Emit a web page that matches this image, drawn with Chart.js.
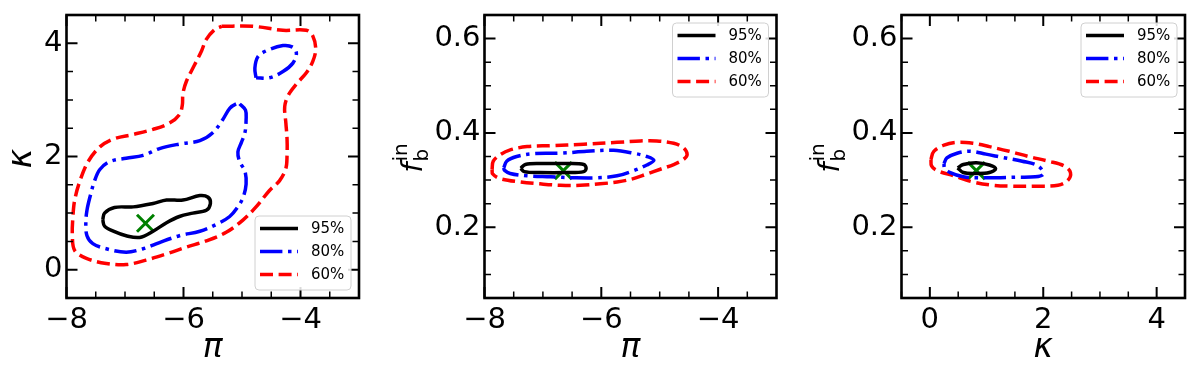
<!DOCTYPE html>
<html>
<head>
<meta charset="utf-8">
<title>Contours</title>
<script src="https://cdn.jsdelivr.net/npm/chart.js@4.4.1/dist/chart.umd.min.js"></script>
<style>
  html, body { margin: 0; padding: 0; background: #fff; }
  #wrap { position: relative; width: 1200px; height: 375px; overflow: hidden; }
  .panel { position: absolute; top: 0; height: 375px; }
</style>
</head>
<body>
<div id="wrap">
  <div class="panel" style="left:0; width:400px"><canvas id="c1" width="400" height="375"></canvas></div>
  <div class="panel" style="left:380px; width:420px"><canvas id="c2" width="420" height="375"></canvas></div>
  <div class="panel" style="left:780px; width:420px"><canvas id="c3" width="420" height="375"></canvas></div>
</div>
<script>
// contour levels (legend labels)
const levels = ['95%', '80%', '60%'];

// panel 1: pi (x) vs kappa (y)
const piKappa95 = [[-7.38,0.88],[-7.35,1.00],[-7.18,1.10],[-6.86,1.11],[-6.52,1.17],[-6.29,1.23],[-6.01,1.23],
  [-5.72,1.31],[-5.58,1.28],[-5.54,1.17],[-5.61,1.05],[-5.84,1.00],[-6.07,0.94],[-6.29,0.83],[-6.52,0.68],
  [-6.75,0.57],[-6.98,0.60],[-7.20,0.68],[-7.35,0.77]];
const piKappa80 = [[-5.04,2.93],[-4.94,2.82],[-4.93,2.65],[-4.95,2.42],[-5.01,2.25],[-5.07,2.08],[-5.04,1.91],
  [-4.95,1.74],[-4.93,1.51],[-4.98,1.28],[-5.07,1.11],[-5.21,0.94],[-5.44,0.80],[-5.72,0.68],[-6.07,0.60],
  [-6.41,0.48],[-6.69,0.37],[-6.98,0.31],[-7.32,0.37],[-7.55,0.46],[-7.65,0.60],[-7.67,0.83],[-7.65,1.05],
  [-7.60,1.28],[-7.52,1.57],[-7.43,1.77],[-7.26,1.91],[-6.98,1.97],[-6.69,2.02],[-6.41,2.14],[-6.07,2.22],
  [-5.72,2.28],[-5.50,2.42],[-5.33,2.65],[-5.21,2.85],[-5.10,2.93]];
const piKappa80b = [[-4.76,3.39],[-4.78,3.56],[-4.73,3.76],[-4.58,3.87],[-4.30,3.96],[-4.13,3.93],[-4.07,3.82],
  [-4.13,3.65],[-4.30,3.50],[-4.53,3.39]];
const piKappa60 = [[-5.35,4.30],[-4.81,4.30],[-4.30,4.23],[-3.90,4.23],[-3.79,4.13],[-3.74,3.90],[-3.79,3.68],
  [-3.90,3.48],[-4.07,3.28],[-4.21,3.08],[-4.27,2.88],[-4.25,2.59],[-4.23,2.31],[-4.23,2.02],[-4.25,1.79],
  [-4.36,1.57],[-4.53,1.40],[-4.76,1.11],[-4.98,0.88],[-5.27,0.66],[-5.61,0.51],[-5.95,0.40],[-6.29,0.28],
  [-6.64,0.17],[-6.98,0.09],[-7.32,0.11],[-7.66,0.20],[-7.86,0.34],[-7.90,0.60],[-7.89,0.94],[-7.86,1.23],
  [-7.77,1.57],[-7.63,1.91],[-7.43,2.17],[-7.20,2.31],[-6.86,2.39],[-6.52,2.48],[-6.24,2.59],[-6.07,2.74],
  [-6.02,2.91],[-6.01,3.11],[-5.95,3.33],[-5.81,3.62],[-5.69,3.87],[-5.61,4.07],[-5.47,4.24]];

// panel 2: pi (x) vs f_b^in (y)
const piFb95 = [[-7.38,0.325],[-7.30,0.333],[-7.05,0.335],[-6.59,0.335],[-6.30,0.333],[-6.26,0.325],
  [-6.30,0.318],[-6.59,0.316],[-7.05,0.316],[-7.32,0.318]];
const piFb80 = [[-7.67,0.326],[-7.62,0.340],[-7.45,0.350],[-7.16,0.356],[-6.70,0.357],[-6.25,0.361],
  [-5.79,0.363],[-5.45,0.357],[-5.22,0.350],[-5.10,0.342],[-5.22,0.332],[-5.45,0.320],[-5.73,0.309],
  [-6.07,0.305],[-6.47,0.305],[-6.87,0.307],[-7.27,0.309],[-7.56,0.314],[-7.66,0.321]];
const piFb60 = [[-7.87,0.323],[-7.85,0.340],[-7.73,0.354],[-7.56,0.364],[-7.27,0.371],[-6.87,0.373],
  [-6.30,0.376],[-5.73,0.380],[-5.33,0.383],[-5.05,0.383],[-4.76,0.378],[-4.59,0.368],[-4.53,0.354],
  [-4.59,0.344],[-4.76,0.333],[-4.99,0.323],[-5.22,0.313],[-5.45,0.303],[-5.73,0.296],[-6.02,0.292],
  [-6.36,0.289],[-6.70,0.289],[-7.05,0.292],[-7.39,0.296],[-7.73,0.303],[-7.86,0.313]];

// panel 3: kappa (x) vs f_b^in (y)
const kappaFb95 = [[0.49,0.326],[0.59,0.333],[0.82,0.337],[1.05,0.332],[1.16,0.324],[1.05,0.316],
  [0.82,0.314],[0.59,0.316]];
const kappaFb80 = [[0.25,0.335],[0.30,0.347],[0.48,0.357],[0.71,0.361],[0.99,0.355],[1.28,0.348],
  [1.63,0.340],[1.91,0.330],[2.00,0.313],[1.86,0.307],[1.51,0.306],[1.17,0.305],[0.82,0.305],
  [0.59,0.307],[0.36,0.316],[0.26,0.325]];
const kappaFb60 = [[0.02,0.344],[0.07,0.361],[0.25,0.374],[0.48,0.380],[0.76,0.378],[1.05,0.371],
  [1.40,0.361],[1.74,0.350],[2.09,0.340],[2.37,0.330],[2.48,0.316],[2.43,0.299],[2.26,0.289],
  [1.86,0.287],[1.45,0.287],[1.11,0.289],[0.76,0.296],[0.42,0.309],[0.13,0.320],[0.03,0.330]];

// best-fit point (green cross)
const bestPi = -6.65;
const bestKappa = 0.82;
const bestFb = 0.320;

// axis ticks
const piTicks = [-8, -6, -4];
const piMinor = [-7.5, -7, -6.5, -5.5, -5, -4.5, -3.5];
const kappaTicks = [0, 2, 4];
const kappaMinor = [-0.5, 0.5, 1, 1.5, 2.5, 3, 3.5, 4.5];
const fbTicks = [0.2, 0.4, 0.6];
const fbMinor = [0.1, 0.15, 0.25, 0.3, 0.35, 0.45, 0.5, 0.55];

const styles = {
  '95%': { color: '#000000', dash: [] },
  '80%': { color: '#0000ff', dash: [22.4, 5.6, 3.5, 5.6] },
  '60%': { color: '#ff0000', dash: [13, 5.6] }
};
const tickFont = { family: "'DejaVu Sans', sans-serif", size: 29 };

function closed(pts) {
  return pts.concat([pts[0]]).map(([x, y]) => ({ x, y }));
}

function contour(label, pts) {
  const s = styles[label];
  return {
    label: label,
    data: closed(pts),
    showLine: true,
    borderColor: s.color,
    borderDash: s.dash,
    borderWidth: 3.5,
    pointRadius: 0,
    tension: 0.35,
    fill: false
  };
}

function marker(x, y) {
  return {
    label: 'best',
    data: [{ x, y }],
    pointStyle: 'crossRot',
    pointRadius: 12,
    borderColor: '#008000',
    borderWidth: 3
  };
}

function fmt(v, dec) {
  return (dec ? v.toFixed(dec) : String(v)).replace('-', '\u2212');
}

// frame, inward ticks, axis titles and legend
const decorPlugin = {
  id: 'decor',
  afterDatasetsDraw(chart) {
    const o = chart.options.plugins.decor;
    const { ctx, chartArea: a } = chart;
    const xs = chart.scales.x, ys = chart.scales.y;
    ctx.save();
    ctx.strokeStyle = '#000';
    ctx.lineCap = 'butt';
    const tick = (vals, scale, len, w) => {
      ctx.lineWidth = w;
      ctx.beginPath();
      vals.forEach(v => {
        const p = scale.getPixelForValue(v);
        if (scale === xs) {
          ctx.moveTo(p, a.bottom); ctx.lineTo(p, a.bottom - len);
          ctx.moveTo(p, a.top); ctx.lineTo(p, a.top + len);
        } else {
          ctx.moveTo(a.left, p); ctx.lineTo(a.left + len, p);
          ctx.moveTo(a.right, p); ctx.lineTo(a.right - len, p);
        }
      });
      ctx.stroke();
    };
    tick(o.xMajor, xs, 11, 2);
    tick(o.xMinor, xs, 6.5, 1.5);
    tick(o.yMajor, ys, 11, 2);
    tick(o.yMinor, ys, 6.5, 1.5);

    // legend
    const lw = 96, lh = 74;
    const bx = a.right - 8 - lw;
    const by = o.legendPos === 'top' ? a.top + 8 : a.bottom - 8 - lh;
    ctx.beginPath();
    ctx.roundRect(bx, by, lw, lh, 4);
    ctx.fillStyle = 'rgba(255,255,255,0.85)';
    ctx.fill();
    ctx.lineWidth = 1;
    ctx.strokeStyle = '#d0d0d0';
    ctx.stroke();
    ctx.font = "15px 'DejaVu Sans', sans-serif";
    ctx.textBaseline = 'middle';
    ctx.textAlign = 'left';
    levels.forEach((lab, i) => {
      const ly = by + 12.5 + i * 23;
      ctx.beginPath();
      ctx.setLineDash(styles[lab].dash);
      ctx.strokeStyle = styles[lab].color;
      ctx.lineWidth = 3.5;
      ctx.moveTo(bx + 5, ly);
      ctx.lineTo(bx + 43, ly);
      ctx.stroke();
      ctx.setLineDash([]);
      ctx.fillStyle = '#000';
      ctx.fillText(lab, bx + 56, ly + 1);
    });

    // frame
    ctx.lineWidth = 2.6;
    ctx.strokeStyle = '#000';
    ctx.strokeRect(a.left, a.top, a.right - a.left, a.bottom - a.top);

    // axis titles
    ctx.fillStyle = '#000';
    ctx.textAlign = 'center';
    ctx.textBaseline = 'middle';
    ctx.font = "italic 33px 'DejaVu Sans', sans-serif";
    ctx.fillText(o.xTitle, (a.left + a.right) / 2, 348);
    ctx.translate(a.left - o.yTitleGap, (a.top + a.bottom) / 2 + 2);
    ctx.rotate(-Math.PI / 2);
    if (o.yTitle === 'fb') {
      ctx.textAlign = 'left';
      ctx.textBaseline = 'alphabetic';
      ctx.font = "italic 29px 'DejaVu Sans', sans-serif";
      const fw = ctx.measureText('f').width;
      ctx.font = "20px 'DejaVu Sans', sans-serif";
      const sw = Math.max(ctx.measureText('in').width, ctx.measureText('b').width);
      const x0 = -(fw + sw) / 2;
      ctx.font = "italic 29px 'DejaVu Sans', sans-serif";
      ctx.fillText('f', x0, 8);
      ctx.font = "20px 'DejaVu Sans', sans-serif";
      ctx.fillText('b', x0 + fw + 1, 14);
      ctx.fillText('in', x0 + fw + 1, -7);
    } else {
      ctx.fillText(o.yTitle, 0, 0);
    }
    ctx.restore();
  }
};

function makeChart(id, cfg) {
  const W = cfg.width;
  const left = cfg.area.left - cfg.offset;
  const right = cfg.area.right - cfg.offset;
  const scaleX = {
    type: 'linear',
    min: cfg.xRange[0], max: cfg.xRange[1],
    grid: { display: false, drawTicks: false },
    border: { display: false },
    afterBuildTicks: s => { s.ticks = cfg.xMajor.map(v => ({ value: v })); },
    afterFit: s => { s.height = 375 - cfg.area.bottom; s.paddingLeft = 0; s.paddingRight = 0; },
    ticks: { font: tickFont, color: '#000', padding: 5, maxRotation: 0,
      callback: v => fmt(v, cfg.xDec) }
  };
  const scaleY = {
    type: 'linear',
    min: cfg.yRange[0], max: cfg.yRange[1],
    grid: { display: false, drawTicks: false },
    border: { display: false },
    afterBuildTicks: s => { s.ticks = cfg.yMajor.map(v => ({ value: v })); },
    afterFit: s => { s.width = left; s.paddingTop = 0; s.paddingBottom = 0; },
    ticks: { font: tickFont, color: '#000', padding: 4,
      callback: v => fmt(v, cfg.yDec) }
  };
  return new Chart(document.getElementById(id), {
    type: 'scatter',
    data: { datasets: cfg.datasets },
    options: {
      responsive: false,
      animation: false,
      layout: { padding: { left: 0, top: cfg.area.top, right: W - right, bottom: 0 } },
      scales: { x: scaleX, y: scaleY },
      plugins: {
        legend: { display: false },
        tooltip: { enabled: false },
        decor: {
          xMajor: cfg.xMajor, xMinor: cfg.xMinor, yMajor: cfg.yMajor, yMinor: cfg.yMinor,
          legendPos: cfg.legendPos, xTitle: cfg.xTitle, yTitle: cfg.yTitle, yTitleGap: cfg.yTitleGap
        }
      }
    },
    plugins: [decorPlugin]
  });
}

makeChart('c1', {
  offset: 0, width: 400,
  area: { left: 66.5, right: 359, top: 6, bottom: 298 },
  xRange: [-8, -3], yRange: [-0.5, 4.5],
  xMajor: piTicks, xMinor: piMinor, yMajor: kappaTicks, yMinor: kappaMinor,
  xDec: 0, yDec: 0,
  legendPos: 'bottom', xTitle: '\u03c0', yTitle: '\u03ba', yTitleGap: 44,
  datasets: [
    contour('95%', piKappa95), contour('80%', piKappa80), contour('80%', piKappa80b),
    contour('60%', piKappa60), marker(bestPi, bestKappa)
  ]
});

makeChart('c2', {
  offset: 380, width: 420,
  area: { left: 484.5, right: 776.5, top: 6, bottom: 298 },
  xRange: [-8, -3], yRange: [0.05, 0.65],
  xMajor: piTicks, xMinor: piMinor, yMajor: fbTicks, yMinor: fbMinor,
  xDec: 0, yDec: 1,
  legendPos: 'top', xTitle: '\u03c0', yTitle: 'fb', yTitleGap: 71,
  datasets: [
    contour('95%', piFb95), contour('80%', piFb80), contour('60%', piFb60), marker(bestPi, bestFb)
  ]
});

makeChart('c3', {
  offset: 780, width: 420,
  area: { left: 901.5, right: 1194, top: 6, bottom: 298 },
  xRange: [-0.5, 4.5], yRange: [0.05, 0.65],
  xMajor: kappaTicks, xMinor: kappaMinor, yMajor: fbTicks, yMinor: fbMinor,
  xDec: 0, yDec: 1,
  legendPos: 'top', xTitle: '\u03ba', yTitle: 'fb', yTitleGap: 71,
  datasets: [
    contour('95%', kappaFb95), contour('80%', kappaFb80), contour('60%', kappaFb60),
    marker(bestKappa, bestFb)
  ]
});
</script>
</body>
</html>
